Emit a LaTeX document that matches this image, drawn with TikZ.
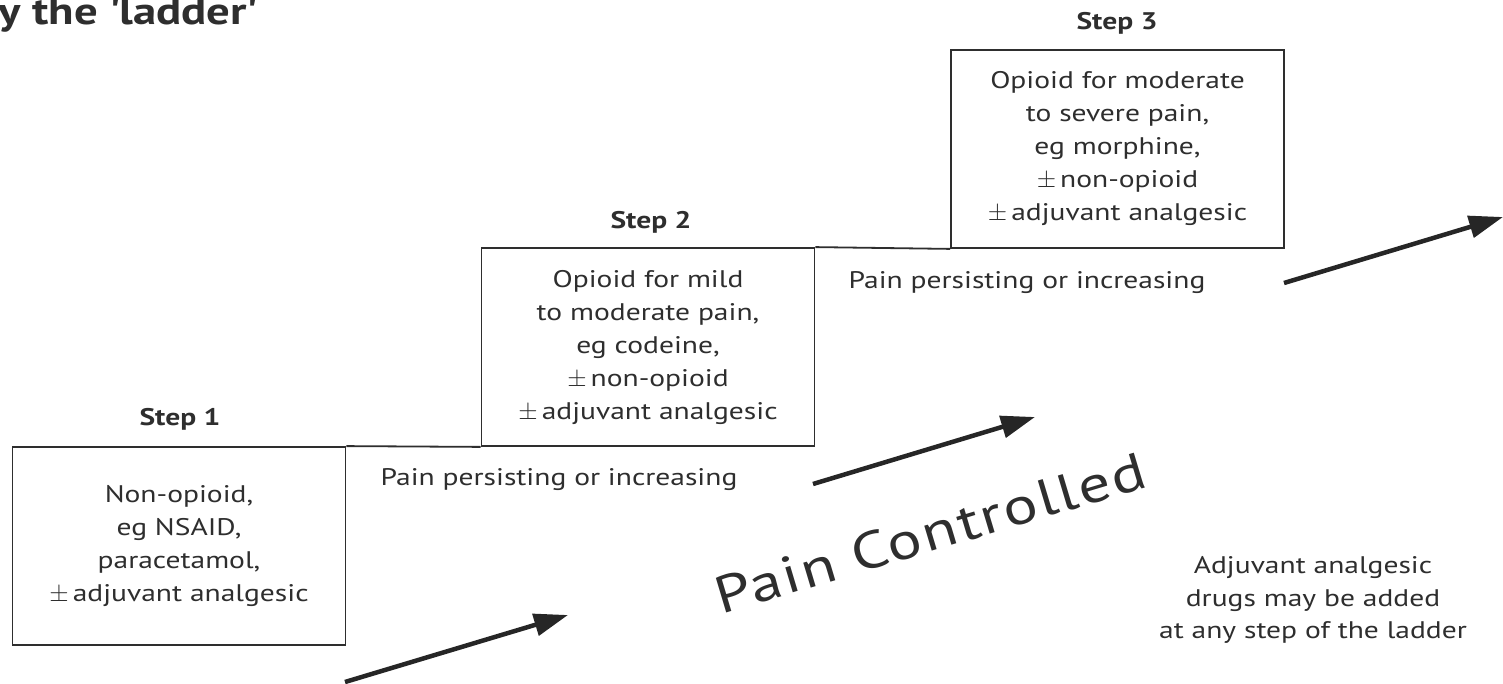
\documentclass[tikz,border=0pt]{standalone}
\usepackage{fontspec}
\setmainfont{PT Sans}[FakeStretch=1.23]
\newfontfamily\pcfont{PT Sans}[FakeStretch=1.23, LetterSpace=4]
\usetikzlibrary{arrows.meta}
\definecolor{ink}{HTML}{2E2E2E}
\newcommand{\plusminus}{$\pm$\,}
\begin{document}
\begin{tikzpicture}[x=1pt,y=-1pt,
  box/.style={draw=ink, line width=1.8pt, minimum width=333pt, minimum height=198pt, inner sep=0pt, align=center, font=\fontsize{24}{33}\selectfont, text=ink},
  steplabel/.style={font=\fontsize{24}{28}\selectfont\bfseries, text=ink},
  note/.style={font=\fontsize{24}{32.5}\selectfont, text=ink, align=center},
  ladder/.style={draw=ink, line width=1.8pt},
  progress/.style={draw=black!85, line width=4.5pt, -{Triangle[length=34pt,width=22pt]}}
]
\useasboundingbox (0,0) rectangle (1503,684);
\clip (0,0) rectangle (1503,684);
\fill[white] (0,0) rectangle (1503,684);

\node[anchor=base west, font=\fontsize{38}{42}\selectfont\bfseries, text=ink, inner sep=0pt] (title) at (-2,25) {y the \textquotesingle ladder\textquotesingle};

\node[box] (b1) at (179,546) {Non-opioid,\\eg NSAID,\\paracetamol,\\\plusminus adjuvant analgesic};
\node[box] (b2) at (648,347) {Opioid for mild\\to moderate pain,\\eg codeine,\\\plusminus non-opioid\\\plusminus adjuvant analgesic};
\node[box] (b3) at (1117.5,149) {Opioid for moderate\\to severe pain,\\eg morphine,\\\plusminus non-opioid\\\plusminus adjuvant analgesic};

\draw[ladder] (b1.north east) -- (b2.south west);
\draw[ladder] (b2.north east) -- (b3.south west);

\node[steplabel] (s1) at (180,419) {Step 1};
\node[steplabel] (s2) at (651,222) {Step 2};
\node[steplabel] (s3) at (1117,23) {Step 3};

\node[note] (p1) at (559,480) {Pain persisting or increasing};
\node[note] (p2) at (1027,283) {Pain persisting or increasing};

\node[note] (adj) at (1313,600) {Adjuvant analgesic\\drugs may be added\\at any step of the ladder};

\node[font=\pcfont\fontsize{52}{56}\selectfont, text=ink, rotate=16.7] (pc) at (930,533) {Pain Controlled};

\coordinate (a1s) at (345,682);
\coordinate (a1e) at (568,615);
\coordinate (a2s) at (813,484);
\coordinate (a2e) at (1035,417);
\coordinate (a3s) at (1284,283);
\coordinate (a3e) at (1503,217);
\draw[progress] (a1s) -- (a1e);
\draw[progress] (a2s) -- (a2e);
\draw[progress] (a3s) -- (a3e);
\end{tikzpicture}
\end{document}
